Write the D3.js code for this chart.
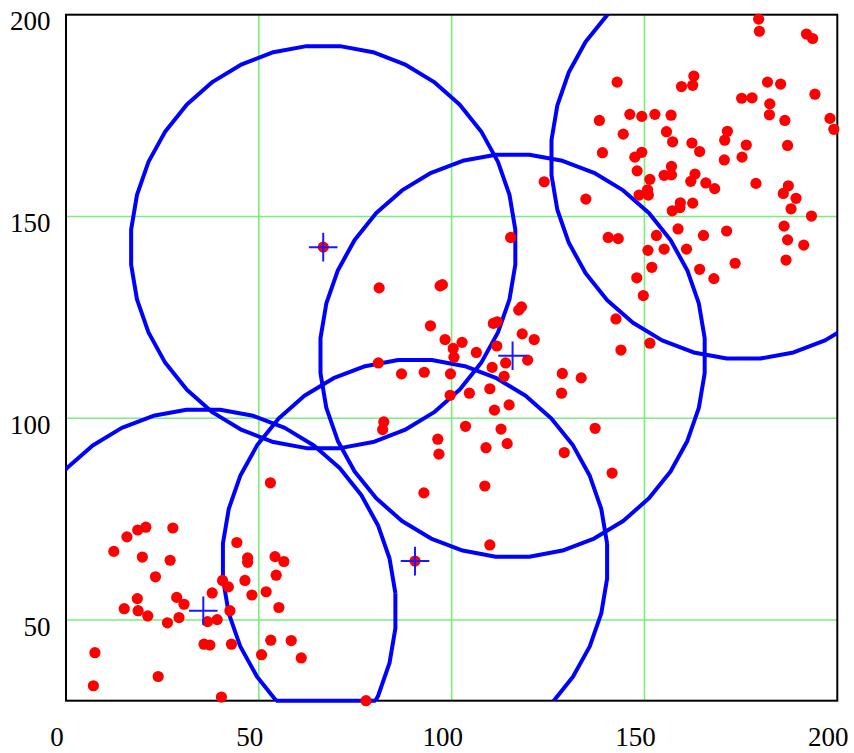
<!DOCTYPE html>
<html><head><meta charset="utf-8">
<script src="https://cdn.jsdelivr.net/npm/d3@7/dist/d3.min.js"></script>
<style>body{margin:0;background:#fff}</style>
</head><body>
<script>
// ---- data ----
const pointsX = [
 20.7,18.6,27.7,15.8,12.4,19.8,27.0,23.2,44.3,47.1,47.1,54.2,56.5,54.5,46.4,40.6,42.1,37.9,48.2,51.9,
 18.5,28.7,30.6,15.1,18.7,21.2,29.3,26.3,36.7,39.2,42.5,55.2,35.8,37.3,42.9,53.1,58.4,50.7,61.0,7.5,
 23.9,7.1,40.3,53.0,77.8,90.5,
 66.7,81.2,97.0,97.6,94.5,98.3,102.7,100.4,100.6,106.4,110.8,111.8,117.4,118.1,118.3,121.4,111.7,114.0,119.7,110.5,
 113.6,109.9,114.9,111.1,104.6,99.6,99.7,92.9,87.0,81.0,128.7,133.6,128.5,82.4,82.1,103.6,112.8,114.4,108.9,96.4,
 96.7,129.2,137.2,108.6,92.8,109.9,115.3,124.0,141.6,
 179.6,179.8,192.0,193.6,142.9,162.8,159.6,162.5,181.9,185.3,194.2,175.2,177.9,182.5,182.4,186.4,198.1,199.1,138.3,146.2,
 149.3,152.7,156.9,144.5,155.7,157.3,171.5,170.8,176.4,187.1,162.3,164.3,139.1,149.3,147.5,170.7,175.3,157.0,155.1,157.0,
 148.1,151.4,163.1,162.0,165.9,168.2,178.9,187.3,150.8,151.0,148.6,134.8,186.0,189.3,188.0,193.3,186.2,187.1,191.3,186.7,
 159.3,159.2,157.2,162.5,158.7,153.1,140.6,143.2,165.3,171.3,150.9,155.1,160.9,151.9,164.3,168.0,173.5,148.0,149.7,142.6,
 143.9,151.4
];
const pointsY = [
 73.0,72.3,72.8,70.6,67.0,65.6,64.8,60.7,69.2,65.4,64.3,65.7,64.5,61.1,59.8,59.8,58.2,56.7,56.2,57.0,
 55.3,55.6,53.9,52.8,52.3,51.0,50.6,49.3,49.6,50.1,52.3,53.1,44.0,43.8,44.0,45.0,44.9,41.4,40.6,41.9,
 36.0,33.7,30.9,84.0,30.0,64.6,
 142.4,132.3,132.8,133.1,122.9,119.5,118.8,117.3,115.1,116.3,123.5,123.9,126.8,127.6,120.9,119.5,117.9,113.7,114.4,112.6,
 110.4,107.3,103.3,102.0,106.2,105.7,111.0,111.4,111.0,113.7,111.1,110.0,106.2,99.1,97.2,98.0,97.3,93.7,92.7,94.8,
 91.1,91.5,97.5,83.2,81.5,68.6,144.8,158.6,86.4,
 198.9,195.9,195.2,194.1,183.3,184.8,182.2,182.5,183.3,182.8,180.3,179.3,179.4,177.9,175.2,173.8,174.3,171.6,173.8,175.3,
 174.8,175.3,175.1,170.4,171.0,168.5,171.1,168.9,167.7,167.6,168.2,166.1,165.8,165.9,164.7,164.0,164.7,162.4,160.2,160.3,
 161.3,159.2,160.5,158.7,158.3,156.9,158.2,157.6,156.6,155.3,155.3,154.3,155.7,154.5,151.9,150.1,147.6,144.2,142.9,139.2,
 153.4,152.2,151.4,153.3,146.9,145.3,144.8,144.5,145.3,146.4,141.6,141.9,141.9,137.4,136.9,134.6,138.4,134.8,130.4,124.6,
 116.9,118.6
];
const circleCX = [66.7, 115.8, 35.6, 90.5, 175.7];
const circleCY = [142.4, 115.5, 52.3, 64.6, 164.6];
const circleR  = [50, 50, 50, 50, 50];
const markX = [66.7, 115.8, 35.6, 90.5];
const markY = [142.4, 115.5, 52.3, 64.6];
const xTicks = [0, 50, 100, 150, 200];
const yTicks = [50, 100, 150, 200];
const xDomain = [0, 200];
const yDomain = [30, 200];

// ---- drawing ----
const W = 854, H = 753;
const L = 66, R = 837.3, T = 14.7, B = 700.7;
const svg = d3.select("body").append("svg").attr("width", W).attr("height", H);
const x = d3.scaleLinear().domain(xDomain).range([L, R]);
const y = d3.scaleLinear().domain(yDomain).range([B, T]);

svg.append("defs").append("clipPath").attr("id", "plot")
  .append("rect").attr("x", L).attr("y", T).attr("width", R - L).attr("height", B - T);

// grid
const grid = svg.append("g").attr("stroke", "#7aee7a").attr("stroke-width", 1.6);
grid.selectAll(".gx").data(xTicks.filter(t => t > xDomain[0] && t < xDomain[1])).join("line")
  .attr("x1", d => x(d)).attr("x2", d => x(d)).attr("y1", T).attr("y2", B);
grid.selectAll(".gy").data(yTicks.filter(t => t > yDomain[0] && t < yDomain[1])).join("line")
  .attr("y1", d => y(d)).attr("y2", d => y(d)).attr("x1", L).attr("x2", R);

// frame
svg.append("rect").attr("x", L).attr("y", T).attr("width", R - L).attr("height", B - T)
  .attr("fill", "none").attr("stroke", "#000").attr("stroke-width", 2);

// axes labels
const xAxis = svg.append("g").attr("transform", `translate(0,${B})`)
  .call(d3.axisBottom(x).tickValues(xTicks).tickSize(0).tickFormat(d3.format("d")));
xAxis.select(".domain").remove();
xAxis.selectAll("text").attr("y", 45.3).attr("dy", 0).attr("dx", -9.5)
  .attr("font-family", "'Liberation Serif', 'Times New Roman', serif").attr("font-size", 27).attr("fill", "#000");

const yAxis = svg.append("g").attr("transform", `translate(${L},0)`)
  .call(d3.axisLeft(y).tickValues(yTicks).tickSize(0).tickFormat(d3.format("d")));
yAxis.select(".domain").remove();
yAxis.selectAll("text").attr("x", -15.5).attr("dy", 15.2)
  .attr("font-family", "'Liberation Serif', 'Times New Roman', serif").attr("font-size", 27).attr("fill", "#000");

// circles (polygonal)
const nSeg = 36;
const line = d3.line().x(d => x(d[0])).y(d => y(d[1]));
const circles = circleCX.map((cx, i) => d3.range(nSeg + 1).map(k => {
  const a = (k / nSeg) * 2 * Math.PI + Math.PI / 36;
  return [cx + circleR[i] * Math.cos(a), circleCY[i] + circleR[i] * Math.sin(a)];
}));
svg.append("g").attr("clip-path", "url(#plot)")
  .selectAll("path").data(circles).join("path")
  .attr("d", line).attr("fill", "none").attr("stroke", "#0000ff").attr("stroke-width", 4)
  .attr("stroke-linejoin", "round");

// segment on the lower edge where the lower arcs of the circles overlap
const ymin = yDomain[0];
let lo = -Infinity, hi = Infinity, count = 0;
circleCX.forEach((cx, i) => {
  const dy = circleCY[i] - ymin;
  if (dy < circleR[i]) {
    const h = Math.sqrt(circleR[i] * circleR[i] - dy * dy);
    lo = Math.max(lo, cx - h); hi = Math.min(hi, cx + h); count++;
  }
});
if (count > 1 && hi > lo) {
  svg.append("line").attr("x1", x(Math.max(lo, xDomain[0]))).attr("x2", x(Math.min(hi, xDomain[1])))
    .attr("y1", y(ymin)).attr("y2", y(ymin)).attr("stroke", "#0000ff").attr("stroke-width", 4);
}

// points
svg.append("g").selectAll("circle").data(pointsX.map((v, i) => [v, pointsY[i]])).join("circle")
  .attr("cx", d => x(d[0])).attr("cy", d => y(d[1])).attr("r", 5.6).attr("fill", "#ff0000");

// center markers
svg.append("g").selectAll("path").data(markX.map((v, i) => [v, markY[i]])).join("path")
  .attr("d", d => `M${x(d[0]) - 14.3},${y(d[1])}h28.6M${x(d[0])},${y(d[1]) - 14.3}v28.6`)
  .attr("stroke", "#1a1aff").attr("stroke-width", 2).attr("fill", "none");
</script>
</body></html>
